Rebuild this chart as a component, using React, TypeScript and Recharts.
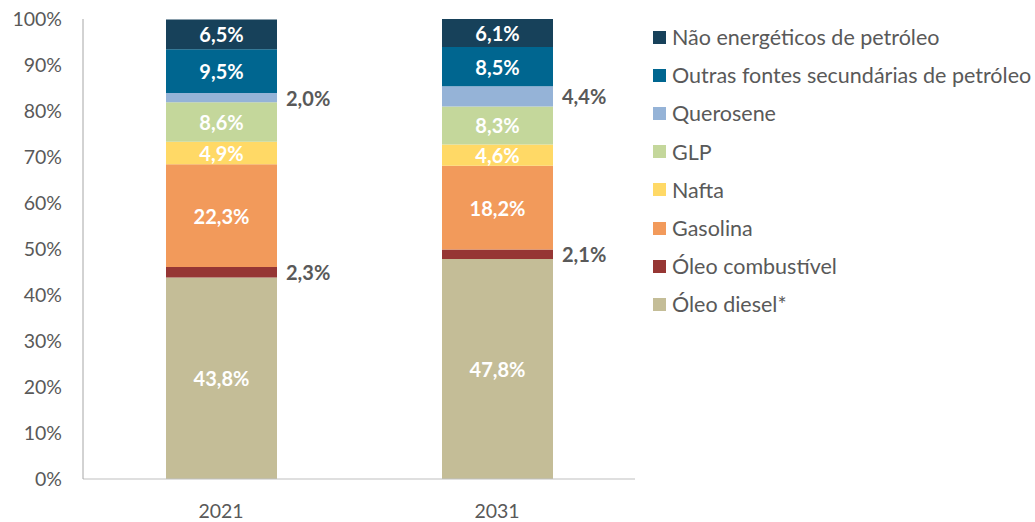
import { BarChart, Bar, XAxis, YAxis, LabelList } from "recharts";

const years = ["2021", "2031"];

const oleoDiesel = [43.8, 47.8];
const oleoCombustivel = [2.3, 2.1];
const gasolina = [22.3, 18.2];
const nafta = [4.9, 4.6];
const glp = [8.6, 8.3];
const querosene = [2.0, 4.4];
const outrasFontes = [9.5, 8.5];
const naoEnergeticos = [6.5, 6.1];

const yTicks = [0, 10, 20, 30, 40, 50, 60, 70, 80, 90, 100];

// bottom to top of the stack
const SERIES = [
  { key: "diesel", name: "Óleo diesel*", values: oleoDiesel, color: "#C4BD97", outside: false },
  { key: "combustivel", name: "Óleo combustível", values: oleoCombustivel, color: "#963634", outside: true },
  { key: "gasolina", name: "Gasolina", values: gasolina, color: "#F29A5B", outside: false },
  { key: "nafta", name: "Nafta", values: nafta, color: "#FFD966", outside: false },
  { key: "glp", name: "GLP", values: glp, color: "#C4D79B", outside: false },
  { key: "querosene", name: "Querosene", values: querosene, color: "#95B3D7", outside: true },
  { key: "outras", name: "Outras fontes secundárias de petróleo", values: outrasFontes, color: "#006690", outside: false },
  { key: "nao", name: "Não energéticos de petróleo", values: naoEnergeticos, color: "#17415A", outside: false },
];

const data = years.map((year, i) => {
  const row: Record<string, string | number> = { year };
  SERIES.forEach((s) => {
    row[s.key] = s.values[i];
  });
  return row;
});

const FONT = "Lato, 'Open Sans', sans-serif";
const GRAY = "#595959";

const fmt = (v: number) => v.toFixed(1).replace(".", ",") + "%";

function makeLabel(outside: boolean) {
  return (props: any) => {
    const { x, y, width, height, value } = props;
    if (outside) {
      return (
        <text
          x={x + width + 9}
          y={y + height / 2}
          fill={GRAY}
          fontSize={20}
          fontWeight={700}
          fontFamily={FONT}
          dominantBaseline="central"
        >
          {fmt(value)}
        </text>
      );
    }
    return (
      <text
        x={x + width / 2}
        y={y + height / 2}
        fill="#FFFFFF"
        fontSize={20}
        fontWeight={700}
        fontFamily={FONT}
        textAnchor="middle"
        dominantBaseline="central"
      >
        {fmt(value)}
      </text>
    );
  };
}

function LegendList() {
  const items = [...SERIES].reverse();
  return (
    <div style={{ position: "absolute", left: 653, top: 18, fontFamily: FONT }}>
      {items.map((s) => (
        <div
          key={s.key}
          style={{ display: "flex", alignItems: "center", height: 38.2, color: GRAY, fontSize: 21.5 }}
        >
          <span style={{ width: 13, height: 13, background: s.color, marginRight: 6, display: "inline-block" }} />
          <span style={{ whiteSpace: "nowrap" }}>{s.name}</span>
        </div>
      ))}
    </div>
  );
}

export default function App() {
  return (
    <div style={{ position: "absolute", left: 0, top: 0, width: 1035, height: 522, background: "#fff" }}>
      <BarChart
        width={1035}
        height={522}
        data={data}
        margin={{ top: 19, right: 400, bottom: 0, left: 0 }}
      >
        <XAxis
          dataKey="year"
          height={43}
          tickLine={false}
          axisLine={{ stroke: "#BFBFBF" }}
          tickMargin={19}
          tick={{ fill: GRAY, fontSize: 19.5, fontFamily: FONT }}
        />
        <YAxis
          width={83}
          domain={[0, 100]}
          ticks={yTicks}
          tickFormatter={(v) => `${v}%`}
          tickLine={false}
          axisLine={{ stroke: "#A6A6A6" }}
          tickMargin={15}
          tick={{ fill: GRAY, fontSize: 19.5, fontFamily: FONT }}
        />
        {SERIES.map((s) => (
          <Bar
            key={s.key}
            dataKey={s.key}
            name={s.name}
            stackId="a"
            fill={s.color}
            barSize={111}
            isAnimationActive={false}
          >
            <LabelList dataKey={s.key} content={makeLabel(s.outside)} />
          </Bar>
        ))}
      </BarChart>
      <LegendList />
    </div>
  );
}
